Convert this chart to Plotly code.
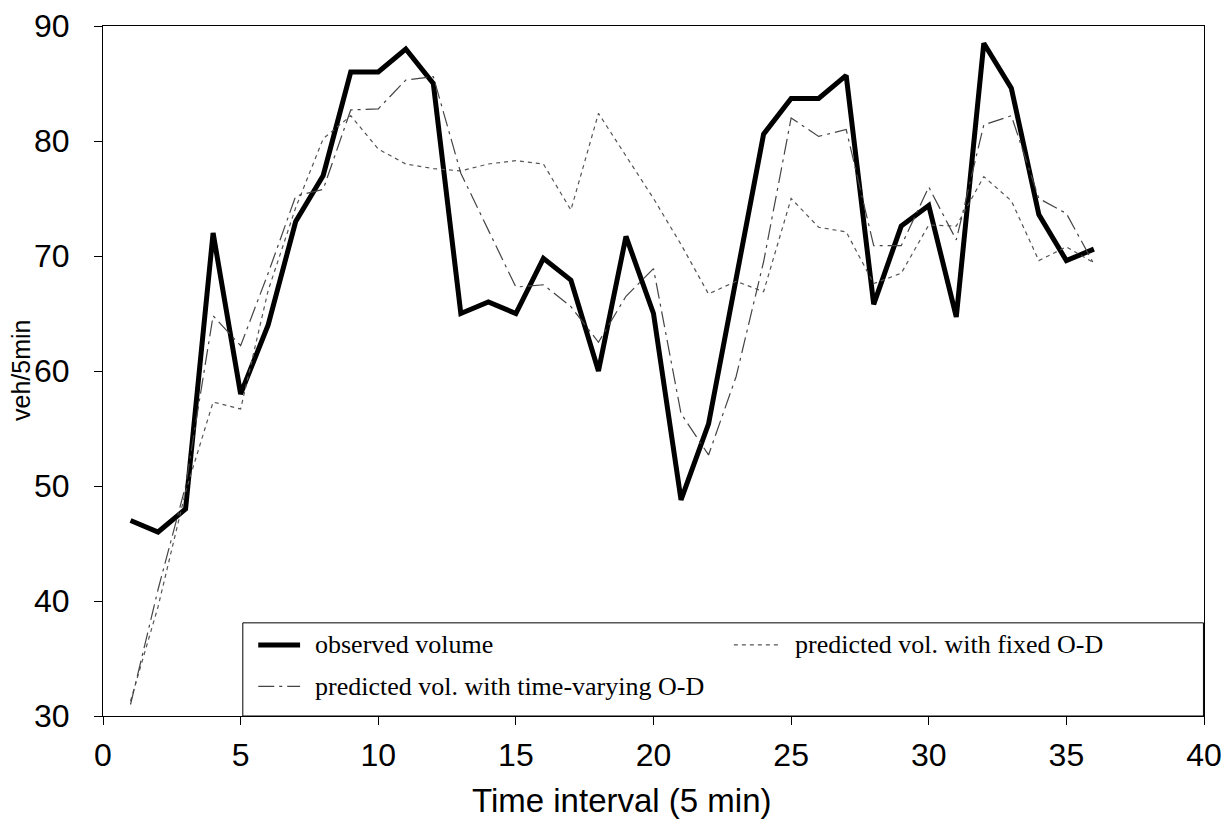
import plotly.graph_objects as go

# Time interval index (5-minute intervals)
intervals = list(range(1, 37))

# Observed link volume (veh/5min)
observed = [47, 46, 48, 72, 58, 64, 73, 77, 86, 86, 88, 85, 65, 66, 65, 69.8, 67.9, 60,
            71.7, 65, 48.8, 55.4, 68, 80.6, 83.7, 83.7, 85.7, 65.8, 72.6, 74.4, 64.7, 88.5,
            84.6, 73.6, 69.6, 70.6]

# Predicted volume using a fixed O-D matrix
pred_fixed = [31.3, 39.5, 49.5, 57.3, 56.7, 67, 74.2, 80.2, 82.2, 79.3, 78, 77.6, 77.4, 78,
              78.3, 78, 74, 82.4, 78.7, 75, 71, 66.7, 67.8, 66.9, 75, 72.5, 72.1, 67.6, 68.5,
              72.7, 72.6, 76.9, 74.8, 69.6, 70.8, 69.4]

# Predicted volume using time-varying O-D matrices
pred_tv = [31, 41, 50, 64.8, 62.2, 68.5, 75.2, 75.8, 82.7, 82.8, 85.3, 85.6, 77.2, 72.2,
           67.3, 67.5, 65.6, 62.5, 66.5, 68.9, 56.3, 52.7, 59.5, 69.5, 82, 80.4, 81, 70.9,
           70.9, 76, 71.4, 81.4, 82.2, 75, 73.7, 69.3]

x_ticks = [0, 5, 10, 15, 20, 25, 30, 35, 40]
y_ticks = [30, 40, 50, 60, 70, 80, 90]

series = [
    ("observed volume", observed, dict(color="black", width=5)),
    ("predicted vol. with fixed O-D", pred_fixed,
     dict(color="#555555", width=1.2, dash="4px,4px")),
    ("predicted vol. with time-varying O-D", pred_tv,
     dict(color="#444444", width=1.2, dash="16px,5px,3px,5px")),
]

fig = go.Figure()
for name, vals, line in series:
    fig.add_trace(go.Scatter(x=intervals, y=vals, mode="lines", name=name, line=line))

sans = "Liberation Sans, Arial, sans-serif"
serif = "Liberation Serif, Times New Roman, serif"
tick_font = dict(family=sans, size=32, color="black")

# Legend box drawn inside the plot area, in paper coordinates
leg_x0, leg_x1, leg_y0, leg_y1 = 0.127, 0.9995, 0.0, 0.135
row_y = [0.103, 0.043]
legend_items = [
    (series[0], 0.141, 0.179, row_y[0]),
    (series[1], 0.573, 0.615, row_y[0]),
    (series[2], 0.141, 0.179, row_y[1]),
]

shapes = [dict(type="rect", xref="paper", yref="paper",
               x0=leg_x0, x1=leg_x1, y0=leg_y0, y1=leg_y1,
               line=dict(color="black", width=1), fillcolor="white", layer="above")]
annotations = []
for (name, _, line), sx0, sx1, sy in legend_items:
    shapes.append(dict(type="line", xref="paper", yref="paper",
                       x0=sx0, x1=sx1, y0=sy, y1=sy, line=line, layer="above"))
    annotations.append(dict(text=name, xref="paper", yref="paper",
                            x=sx1 + 0.012, y=sy, xanchor="left", yanchor="middle",
                            showarrow=False,
                            font=dict(family=serif, size=26, color="black")))

# Axis titles
annotations.append(dict(text="Time interval (5 min)", xref="paper", yref="paper",
                        x=0.471, y=0, yshift=-84, xanchor="center", yanchor="middle",
                        showarrow=False, font=dict(family=sans, size=33, color="black")))
annotations.append(dict(text="veh/5min", xref="paper", yref="paper",
                        x=0, xshift=-82, y=0.5, textangle=-90,
                        xanchor="center", yanchor="middle",
                        showarrow=False, font=dict(family=sans, size=25, color="black")))

fig.update_layout(
    width=1232, height=821,
    margin=dict(l=103, r=28, t=26, b=105),
    paper_bgcolor="white", plot_bgcolor="white",
    showlegend=False,
    shapes=shapes,
    annotations=annotations,
    xaxis=dict(
        range=[0, 40], tickvals=x_ticks, ticktext=[str(v) for v in x_ticks],
        showgrid=False, zeroline=False,
        showline=True, linecolor="black", linewidth=1, mirror=True,
        ticks="outside", ticklen=8, tickcolor="black",
        tickfont=tick_font, ticklabelstandoff=3, automargin=False,
    ),
    yaxis=dict(
        range=[30, 90], tickvals=y_ticks, ticktext=[str(v) for v in y_ticks],
        showgrid=False, zeroline=False,
        showline=True, linecolor="black", linewidth=1, mirror=True,
        ticks="outside", ticklen=8, tickcolor="black",
        tickfont=tick_font, ticklabelstandoff=18, automargin=False,
    ),
)

fig.write_html("out.html")
